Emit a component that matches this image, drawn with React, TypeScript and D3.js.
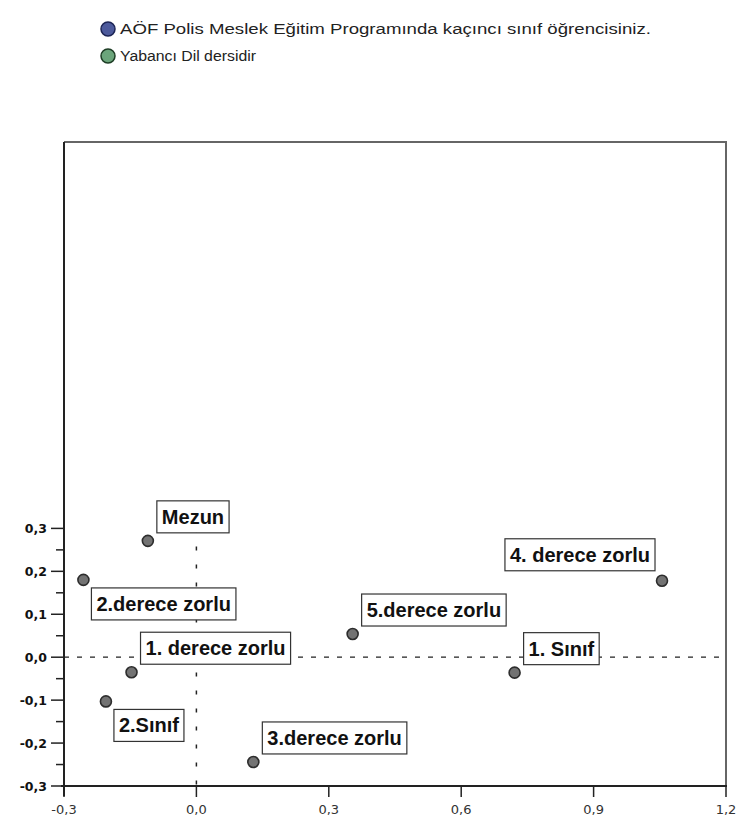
import React, { useEffect, useRef } from 'react';
import * as d3 from 'd3';

// category points (dimension 1 / dimension 2)
const labels = ['Mezun', '2.derece zorlu', '1. derece zorlu', '2.Sınıf', '3.derece zorlu', '5.derece zorlu', '1. Sınıf', '4. derece zorlu'];
const dim1 = [-0.11, -0.256, -0.147, -0.205, 0.129, 0.354, 0.721, 1.055];
const dim2 = [0.271, 0.18, -0.035, -0.103, -0.244, 0.054, -0.036, 0.178];
// where the label box sits relative to its point
const labelPos = ['ne', 'se', 'ne', 'se', 'ne', 'ne', 'ne', 'nw'];

const legendNames = ['AÖF Polis Meslek Eğitim Programında kaçıncı sınıf öğrencisiniz.', 'Yabancı Dil dersidir'];
const legendColors = ['#4d5a9c', '#6ba57b'];
const legendStrokes = ['#1c2455', '#1d3d25'];

const xTicks = [-0.3, 0.0, 0.3, 0.6, 0.9, 1.2];
const yTicks = [-0.3, -0.2, -0.1, 0.0, 0.1, 0.2, 0.3];
const yMinorTicks = [-0.25, -0.15, -0.05, 0.05, 0.15, 0.25];

const fmt = (v: number) => d3.format('.1f')(v).replace('.', ',').replace('−', '-');

export default function App() {
  const ref = useRef<SVGSVGElement>(null);

  useEffect(() => {
    const svg = d3.select(ref.current);
    svg.selectAll('*').remove();

    const left = 64, right = 726, top = 142, bottom = 786;

    const x = d3.scaleLinear().domain([-0.3, 1.2]).range([left, right]);
    const y = d3.scaleLinear().domain([-0.3, 1.2]).range([bottom, top]);

    svg.append('rect').attr('width', 739).attr('height', 833).attr('fill', '#fff');

    // legend (the original font runs wide, so stretch the text a bit)
    const legend = svg.append('g').attr('class', 'legend');
    legendNames.forEach((name, i) => {
      const ly = 29 + i * 27;
      legend.append('circle')
        .attr('cx', 108).attr('cy', ly).attr('r', 7)
        .attr('fill', legendColors[i])
        .attr('stroke', legendStrokes[i])
        .attr('stroke-width', 1.5);
      const t = legend.append('text')
        .attr('x', 120).attr('y', ly + 5)
        .attr('font-family', 'Liberation Sans, Arial, sans-serif')
        .attr('font-size', 14)
        .attr('fill', '#222')
        .text(name);
      const w = (t.node() as SVGTextElement).getComputedTextLength();
      t.attr('textLength', w * (i === 0 ? 1.33 : 1.13)).attr('lengthAdjust', 'spacingAndGlyphs');
    });

    // frame
    svg.append('path')
      .attr('d', `M${left},${top}H${right}V${bottom}`)
      .attr('fill', 'none')
      .attr('stroke', '#666')
      .attr('stroke-width', 2);

    // reference lines at zero
    svg.append('line')
      .attr('x1', left).attr('x2', right)
      .attr('y1', y(0)).attr('y2', y(0))
      .attr('stroke', '#222')
      .attr('stroke-width', 1.2)
      .attr('stroke-dasharray', '5,8');
    svg.append('line')
      .attr('x1', x(0)).attr('x2', x(0))
      .attr('y1', y(0.3)).attr('y2', bottom)
      .attr('stroke', '#222')
      .attr('stroke-width', 1.5)
      .attr('stroke-dasharray', '4,14');

    // y axis
    const yAxis = svg.append('g').attr('transform', `translate(${left},0)`);
    yAxis.append('line')
      .attr('y1', top).attr('y2', bottom + 10)
      .attr('stroke', '#222').attr('stroke-width', 2);
    yAxis.selectAll('.major').data(yTicks).enter().append('line')
      .attr('x1', -13).attr('x2', 0)
      .attr('y1', d => y(d)).attr('y2', d => y(d))
      .attr('stroke', '#222').attr('stroke-width', 1.5);
    yAxis.selectAll('.minor').data(yMinorTicks).enter().append('line')
      .attr('x1', -8).attr('x2', 0)
      .attr('y1', d => y(d)).attr('y2', d => y(d))
      .attr('stroke', '#222').attr('stroke-width', 1.5);
    yAxis.selectAll('.lbl').data(yTicks).enter().append('text')
      .attr('x', -17).attr('y', d => y(d) + 5)
      .attr('text-anchor', 'end')
      .attr('font-family', 'DejaVu Sans, Verdana, sans-serif')
      .attr('font-weight', 'bold')
      .attr('font-size', 12.5)
      .attr('fill', '#111')
      .text(d => fmt(d));

    // x axis
    const xAxis = svg.append('g').attr('transform', `translate(0,${bottom})`);
    xAxis.append('line')
      .attr('x1', left - 3).attr('x2', right + 1)
      .attr('stroke', '#222').attr('stroke-width', 2);
    xAxis.selectAll('.tick').data(xTicks).enter().append('line')
      .attr('x1', d => x(d)).attr('x2', d => x(d))
      .attr('y1', 0).attr('y2', 11)
      .attr('stroke', '#222').attr('stroke-width', 1.5);
    xAxis.selectAll('.lbl').data(xTicks).enter().append('text')
      .attr('x', d => x(d)).attr('y', 28)
      .attr('text-anchor', 'middle')
      .attr('font-family', 'DejaVu Sans, Verdana, sans-serif')
      .attr('font-size', 13)
      .attr('fill', '#333')
      .text(d => fmt(d));

    // points
    const pts = svg.append('g').attr('class', 'points');
    pts.selectAll('circle').data(labels).enter().append('circle')
      .attr('cx', (d, i) => x(dim1[i]))
      .attr('cy', (d, i) => y(dim2[i]))
      .attr('r', 5.5)
      .attr('fill', '#737373')
      .attr('stroke', '#2d2d2d')
      .attr('stroke-width', 1.6);

    // labels
    const boxH = 32, pad = 5;
    const lbls = svg.append('g').attr('class', 'labels');
    labels.forEach((name, i) => {
      const px = x(dim1[i]), py = y(dim2[i]);
      const g = lbls.append('g');
      const rect = g.append('rect');
      const t = g.append('text')
        .attr('font-family', 'Liberation Sans, Arial, sans-serif')
        .attr('font-weight', 'bold')
        .attr('font-size', 20)
        .attr('fill', '#111')
        .text(name);
      const w = (t.node() as SVGTextElement).getComputedTextLength() + pad * 2;
      let bx = px + 9, by = py - 40;
      if (labelPos[i] === 'se') { bx = px + 8; by = py + 8; }
      if (labelPos[i] === 'nw') { bx = px - 7 - w; by = py - 42; }
      rect.attr('x', bx).attr('y', by).attr('width', w).attr('height', boxH)
        .attr('fill', '#fff').attr('stroke', '#333').attr('stroke-width', 1.2);
      t.attr('x', bx + pad).attr('y', by + 23);
    });
  }, []);

  return (
    <svg ref={ref} width={739} height={833}
      style={{ position: 'absolute', left: 0, top: 0, display: 'block' }} />
  );
}
